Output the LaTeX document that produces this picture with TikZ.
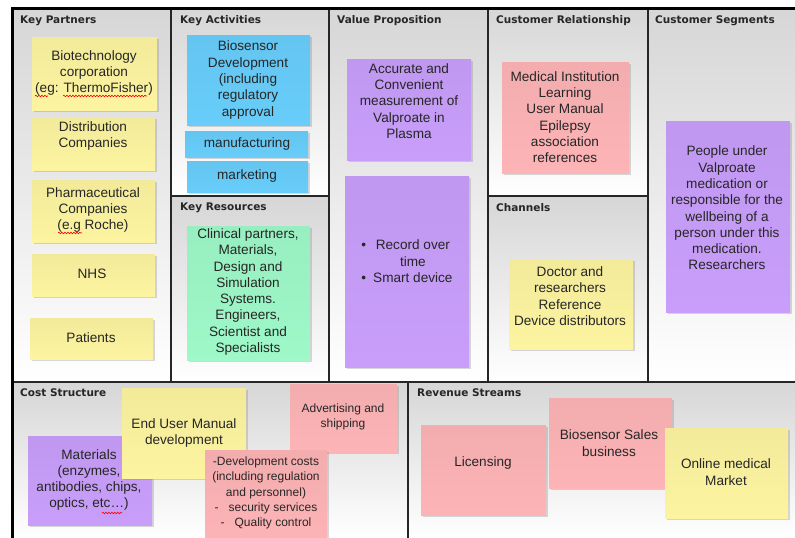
\documentclass[tikz,border=0pt]{standalone}
\usepackage{fontspec}
\setmainfont{Liberation Sans}
\newfontfamily\headfont{DejaVu Sans}
\usetikzlibrary{shadows,decorations.pathmorphing}

\definecolor{noteyellow}{RGB}{252,244,160}
\definecolor{noteblue}{RGB}{104,205,250}
\definecolor{notegreen}{RGB}{158,248,200}
\definecolor{notepurple}{RGB}{200,158,250}
\definecolor{notepink}{RGB}{253,180,182}

\tikzset{
  cell/.style={top color=black!16, bottom color=white},
  divider/.style={line width=1.4pt, black!85},
  heading/.style={anchor=west, inner sep=0pt, font=\headfont\bfseries\fontsize{10.5}{12}\selectfont},
  paper/.style={top color=#1!96!black, bottom color=#1,
    drop shadow={opacity=0.3, shadow xshift=1.5pt, shadow yshift=-1.5pt}},
  every node/.style={align=center, inner sep=0pt, text=black!85, font=\fontsize{13.6}{16.3}\selectfont},
  smalltext/.style={font=\fontsize{12}{15.2}\selectfont},
  typo/.style={red, line width=0.6pt, decorate, decoration={snake, amplitude=0.8pt, segment length=3pt}}
}

\begin{document}
\begin{tikzpicture}[x=1pt, y=-1pt]
\useasboundingbox[fill=white] (0,0) rectangle (795,538);

% Cells
    \shade[cell] (12,8) rectangle (171,382);
    \shade[cell] (171,8) rectangle (329,196);
    \shade[cell] (171,196) rectangle (329,382);
    \shade[cell] (329,8) rectangle (488,382);
    \shade[cell] (488,8) rectangle (648,196);
    \shade[cell] (488,196) rectangle (648,382);
    \shade[cell] (648,8) rectangle (795,382);
    \shade[cell] (12,382) rectangle (408,538);
    \shade[cell] (408,382) rectangle (795,538);

% Grid
    \draw[divider] (171,8) -- (171,382);
    \draw[divider] (329,8) -- (329,382);
    \draw[divider] (488,8) -- (488,382);
    \draw[divider] (648,8) -- (648,382);
    \draw[divider] (171,196) -- (329,196);
    \draw[divider] (488,196) -- (648,196);
    \draw[divider] (12,382) -- (795,382);
    \draw[divider] (408,382) -- (408,538);
    \draw[line width=3pt] (12,538) -- (12,8) -- (795,8);

% Headings
    \node[heading] (partners) at (20,21) {Key Partners};
    \node[heading] (activities) at (180,21) {Key Activities};
    \node[heading] (value) at (337,21) {Value Proposition};
    \node[heading] (relationship) at (496,21) {Customer Relationship};
    \node[heading] (segments) at (655,21) {Customer Segments};
    \node[heading] (resources) at (180,208) {Key Resources};
    \node[heading] (channels) at (496,208) {Channels};
    \node[heading] (cost) at (20,393) {Cost Structure};
    \node[heading] (revenue) at (417,393) {Revenue Streams};

% Key Partners
    \fill[paper=noteyellow] (32,37) rectangle (157,110);
    \node (biotech) at (94,73) {Biotechnology\\corporation\\(eg: ThermoFisher)};
    \fill[paper=noteyellow] (32,117) rectangle (155,170);
    \node (distrib) at (93,136) {Distribution\\Companies};
    \fill[paper=noteyellow] (32,180) rectangle (155,242);
    \node (pharma) at (93,210) {Pharmaceutical\\Companies\\(e.g Roche)};
    \fill[paper=noteyellow] (32,254) rectangle (155,296);
    \node (nhs) at (92,274) {NHS};
    \fill[paper=noteyellow] (30,318) rectangle (153,359);
    \node (patients) at (91,338) {Patients};
    \draw[typo] (35,96) -- (48,96);
    \draw[typo] (63,96) -- (147,96);
    \draw[typo] (58,233) -- (82,233);

% Key Activities
    \fill[paper=noteblue] (187,35) rectangle (310,125);
    \node (biodev) at (248,80) {Biosensor\\Development\\(including\\regulatory\\approval};
    \fill[paper=noteblue] (185,131) rectangle (308,157);
    \node (manuf) at (247,144) {manufacturing};
    \fill[paper=noteblue] (187,161) rectangle (308,192);
    \node (mkt) at (247,176) {marketing};

% Key Resources
    \fill[paper=notegreen] (187,226) rectangle (310,360);
    \node (staff) at (248,292) {Clinical partners,\\Materials,\\Design and\\Simulation\\Systems.\\Engineers,\\Scientist and\\Specialists};

% Value Proposition
    \fill[paper=notepurple] (347,59) rectangle (471,160);
    \node (accurate) at (409,101) {Accurate and\\Convenient\\measurement of\\Valproate in\\Plasma};
    \fill[paper=notepurple] (345,176) rectangle (469,367);
    \node (features) at (407,263) {\begin{tabular}{@{}c@{\hspace{7pt}}c@{}}
      \textbullet & Record over\\ & time\\ \textbullet & Smart device\end{tabular}};

% Customer Relationship
    \fill[paper=notepink] (502,62) rectangle (629,173);
    \node (institution) at (565,117) {Medical Institution\\Learning\\User Manual\\Epilepsy\\association\\references};

% Channels
    \fill[paper=noteyellow] (509,259) rectangle (633,349);
    \node (doctors) at (570,296) {Doctor and\\researchers\\Reference\\Device distributors};

% Customer Segments
    \fill[paper=notepurple] (666,121) rectangle (790,312);
    \node (patientsvpa) at (727,208) {People under\\Valproate\\medication or\\responsible for the\\wellbeing of a\\person under this\\medication.\\Researchers};

% Cost Structure
    \fill[paper=notepurple] (28,436) rectangle (152,525);
    \node (materials) at (89,480) {Materials\\(enzymes,\\antibodies, chips,\\optics, etc…)};
    \draw[typo] (102,513) -- (122,513);
    \fill[paper=noteyellow] (122,388) rectangle (246,478);
    \node (manual) at (184,433) {End User Manual\\development};
    \fill[paper=notepink] (290,384) rectangle (397,452);
    \node[smalltext] (advert) at (343,417) {Advertising and\\shipping};
    \fill[paper=notepink] (205,450) rectangle (327,545);
    \node[smalltext] (devcost) at (266,493) {-Development costs\\(including regulation\\and personnel)\\-\hspace{10pt}security services\\-\hspace{10pt}Quality control};

% Revenue Streams
    \fill[paper=notepink] (421,425) rectangle (546,515);
    \node (licensing) at (483,463) {Licensing};
    \fill[paper=notepink] (549,398) rectangle (672,488);
    \node (sales) at (609,443) {Biosensor Sales\\business};
    \fill[paper=noteyellow] (665,428) rectangle (788,518);
    \node (online) at (726,472) {Online medical\\Market};

\end{tikzpicture}
\end{document}
